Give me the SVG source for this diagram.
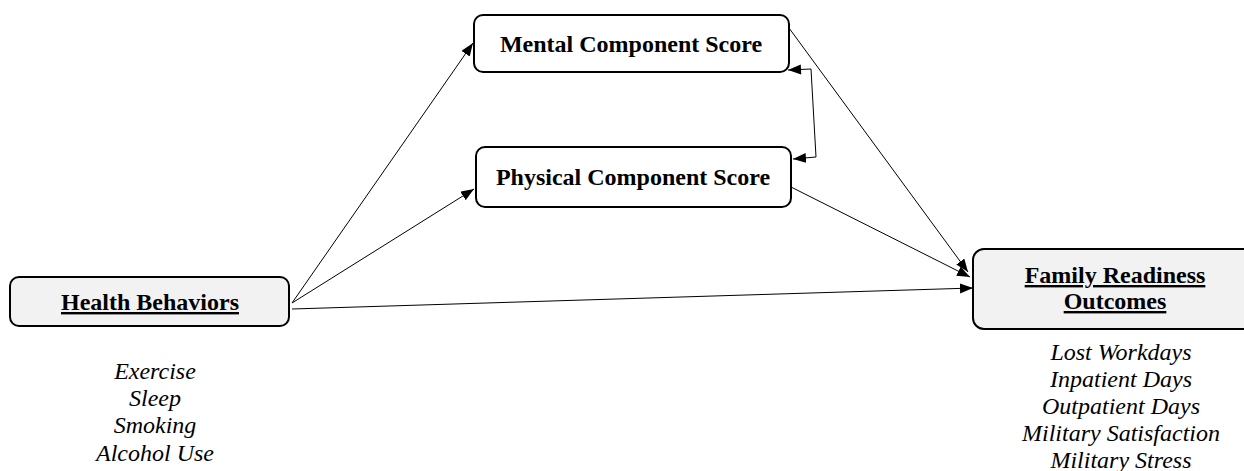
<svg xmlns="http://www.w3.org/2000/svg" width="1244" height="471" viewBox="0 0 1244 471">
<style>
.box{stroke:#000;stroke-width:2}
.gray{fill:#f2f2f2}
.white{fill:#fff}
.h{font-family:"Liberation Serif","Times New Roman",serif;font-weight:bold;font-size:24px;text-anchor:middle;fill:#000}
.u{text-decoration:underline}
.it{font-family:"Liberation Serif","Times New Roman",serif;font-style:italic;font-size:24px;text-anchor:middle;fill:#000}
.c{fill:none;stroke:#000;stroke-width:1}
</style>
<defs>
<marker id="ah" markerUnits="userSpaceOnUse" markerWidth="14" markerHeight="12" refX="13" refY="5" orient="auto">
<path d="M0,0 L13,5 L0,10 Z" fill="#000"/>
</marker>
<marker id="as" markerUnits="userSpaceOnUse" markerWidth="14" markerHeight="12" refX="0" refY="5" orient="auto">
<path d="M13,0 L0,5 L13,10 Z" fill="#000"/>
</marker>
</defs>
<rect width="1244" height="471" fill="#fff"/>
<g id="connectors">
<line class="c" x1="292" y1="303" x2="473" y2="43" marker-end="url(#ah)"/>
<line class="c" x1="292" y1="303" x2="474" y2="189" marker-end="url(#ah)"/>
<line class="c" x1="292" y1="309" x2="973" y2="288" marker-end="url(#ah)"/>
<line class="c" x1="789" y1="28" x2="968" y2="272" marker-end="url(#ah)"/>
<line class="c" x1="791" y1="187" x2="970" y2="277" marker-end="url(#ah)"/>
<polyline class="c" points="788,70 811,69 816,157 793,159" marker-start="url(#as)" marker-end="url(#ah)"/>
</g>
<g id="health">
<rect class="box gray" x="10" y="277" width="279" height="49" rx="9"/>
<text class="h u" x="150" y="310">Health Behaviors</text>
<text class="it" x="155" y="379">Exercise</text>
<text class="it" x="155" y="406">Sleep</text>
<text class="it" x="155" y="433">Smoking</text>
<text class="it" x="155" y="461">Alcohol Use</text>
</g>
<g id="mental">
<rect class="box white" x="474" y="15" width="315" height="57" rx="9"/>
<text class="h" x="631" y="52">Mental Component Score</text>
</g>
<g id="physical">
<rect class="box white" x="476" y="147" width="315" height="60" rx="9"/>
<text class="h" x="633" y="185">Physical Component Score</text>
</g>
<g id="family">
<rect class="box gray" x="973" y="249" width="290" height="80" rx="11"/>
<text class="h u" x="1115" y="283">Family Readiness</text>
<text class="h u" x="1115" y="309">Outcomes</text>
<text class="it" x="1121" y="360">Lost Workdays</text>
<text class="it" x="1121" y="387">Inpatient Days</text>
<text class="it" x="1121" y="414">Outpatient Days</text>
<text class="it" x="1121" y="441">Military Satisfaction</text>
<text class="it" x="1121" y="468">Military Stress</text>
</g>
</svg>
